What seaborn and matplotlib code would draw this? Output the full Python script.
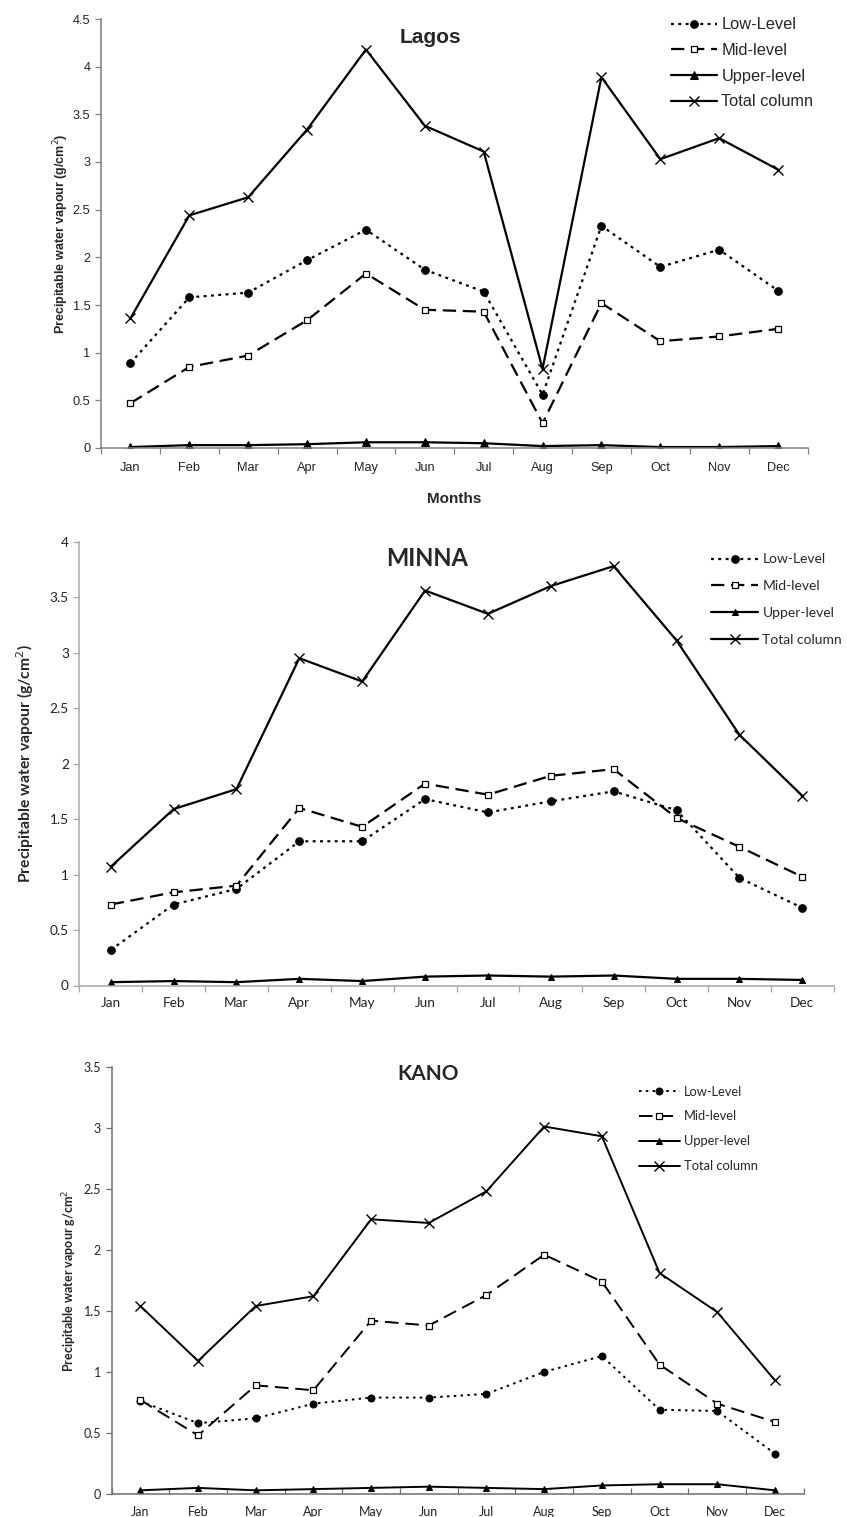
import matplotlib
matplotlib.use("Agg")
import matplotlib.pyplot as plt
import seaborn as sns
import pandas as pd
from matplotlib.ticker import FixedLocator, NullFormatter

months = ["Jan", "Feb", "Mar", "Apr", "May", "Jun", "Jul", "Aug", "Sep", "Oct", "Nov", "Dec"]
series_names = ["Low-Level", "Mid-level", "Upper-level", "Total column"]

lagos_low = [0.89, 1.58, 1.63, 1.97, 2.29, 1.87, 1.64, 0.56, 2.33, 1.90, 2.08, 1.65]
lagos_mid = [0.47, 0.85, 0.97, 1.34, 1.83, 1.45, 1.43, 0.26, 1.52, 1.12, 1.17, 1.25]
lagos_upper = [0.01, 0.03, 0.03, 0.04, 0.06, 0.06, 0.05, 0.02, 0.03, 0.01, 0.01, 0.02]
lagos_total = [1.36, 2.44, 2.63, 3.34, 4.18, 3.38, 3.11, 0.83, 3.89, 3.03, 3.25, 2.92]

minna_low = [0.32, 0.73, 0.87, 1.30, 1.30, 1.68, 1.56, 1.66, 1.75, 1.58, 0.97, 0.70]
minna_mid = [0.73, 0.84, 0.90, 1.60, 1.43, 1.82, 1.72, 1.89, 1.95, 1.51, 1.25, 0.98]
minna_upper = [0.03, 0.04, 0.03, 0.06, 0.04, 0.08, 0.09, 0.08, 0.09, 0.06, 0.06, 0.05]
minna_total = [1.07, 1.59, 1.77, 2.95, 2.74, 3.56, 3.35, 3.60, 3.78, 3.11, 2.26, 1.71]

kano_low = [0.76, 0.58, 0.62, 0.74, 0.79, 0.79, 0.82, 1.00, 1.13, 0.69, 0.68, 0.33]
kano_mid = [0.77, 0.48, 0.89, 0.85, 1.42, 1.38, 1.63, 1.96, 1.74, 1.06, 0.74, 0.59]
kano_upper = [0.03, 0.05, 0.03, 0.04, 0.05, 0.06, 0.05, 0.04, 0.07, 0.08, 0.08, 0.03]
kano_total = [1.54, 1.09, 1.54, 1.62, 2.25, 2.22, 2.48, 3.01, 2.93, 1.81, 1.49, 0.93]

panel_titles = ["Lagos", "MINNA", "KANO"]

sns.set_theme(style="white")
plt.rcParams["font.family"] = ["Liberation Sans", "DejaVu Sans"]

fig = plt.figure(figsize=(8.47, 15.17), dpi=100)

panels = [
    dict(rect=[101/847, 1-448/1517, 706.5/847, 429/1517], data=[lagos_low, lagos_mid, lagos_upper, lagos_total],
         ymax=4.5, yticks=[0, 0.5, 1, 1.5, 2, 2.5, 3, 3.5, 4, 4.5], font="Liberation Sans",
         ylabel="Precipitable water vapour (g/cm$^2$)", ylsize=9, ylx=-0.043, ticksize=9.2, title_size=15,
         title_xy=(0.467, 0.956), legsize=11.8, legloc=(0.797, 1.019), hl=2.8, ls=0.65, spine="#7f7f7f",
         xlabel="Months", lw=1.6, ms_o=5.5, ms_s=5, ms_t=6, ms_x=7, xdir="out", xpad=10,
         dash_low=(0, (1.3, 2.0)), dash_mid=(0, (6, 3))),
    dict(rect=[79.3/847, 1-985.5/1517, 754.4/847, 443.8/1517], data=[minna_low, minna_mid, minna_upper, minna_total],
         ymax=4, yticks=[0, 0.5, 1, 1.5, 2, 2.5, 3, 3.5, 4], font="Lato",
         ylabel="Precipitable water vapour (g/cm$^2$)", ylsize=11.3, ylx=-0.057, ticksize=9.8, title_size=17,
         title_xy=(0.461, 0.963), legsize=10, legloc=(0.83, 0.986), hl=3.4, ls=1.07, spine="#a6a6a6",
         xlabel=None, lw=1.6, ms_o=5.5, ms_s=5, ms_t=4.5, ms_x=7, xdir="out", xpad=8,
         dash_low=(0, (1.3, 2.0)), dash_mid=(0, (6, 3))),
    dict(rect=[111.5/847, 1-1494/1517, 692.3/847, 427.3/1517], data=[kano_low, kano_mid, kano_upper, kano_total],
         ymax=3.5, yticks=[0, 0.5, 1, 1.5, 2, 2.5, 3, 3.5], font="Lato",
         ylabel="Precipitable water vapour g/cm$^2$", ylsize=9, ylx=-0.047, ticksize=9, title_size=15,
         title_xy=(0.457, 0.984), legsize=9.3, legloc=(0.754, 0.968), hl=3.2, ls=1.0, spine="#6e6e6e",
         xlabel=None, lw=1.4, ms_o=5, ms_s=5, ms_t=4.5, ms_x=7, xdir="in", xpad=9,
         dash_low=(0, (1.3, 2.2)), dash_mid=(0, (7, 3.5))),
]

for p, title in zip(panels, panel_titles):
    ax = fig.add_axes(p["rect"])
    fam = [p["font"], "DejaVu Sans"]
    low, mid, upper, total = p["data"]
    lw = p["lw"]
    sns.lineplot(x=months, y=low, ax=ax, color="black", lw=lw, linestyle=p["dash_low"],
                 marker="o", markersize=p["ms_o"], markerfacecolor="black", markeredgecolor="black",
                 label=series_names[0], sort=False)
    sns.lineplot(x=months, y=mid, ax=ax, color="black", lw=lw, linestyle=p["dash_mid"],
                 marker="s", markersize=p["ms_s"], markerfacecolor="white", markeredgecolor="black",
                 markeredgewidth=0.9, label=series_names[1], sort=False)
    sns.lineplot(x=months, y=upper, ax=ax, color="black", lw=lw, linestyle="-",
                 marker="^", markersize=p["ms_t"], markerfacecolor="black", markeredgecolor="black",
                 label=series_names[2], sort=False)
    sns.lineplot(x=months, y=total, ax=ax, color="black", lw=lw, linestyle="-",
                 marker="x", markersize=p["ms_x"], markeredgewidth=1.0, markeredgecolor="black",
                 markerfacecolor="black", label=series_names[3], sort=False)

    ax.set_xlim(-0.5, 11.5)
    ax.set_ylim(0, p["ymax"])
    ax.set_yticks(p["yticks"])
    ax.set_yticklabels([f"{v:g}" for v in p["yticks"]], fontsize=p["ticksize"], family=fam, color="#222222")
    ax.set_xticks(range(12))
    ax.set_xticklabels(months, fontsize=p["ticksize"], family=fam, color="#222222")
    ax.xaxis.set_minor_locator(FixedLocator([i - 0.5 for i in range(13)]))
    ax.xaxis.set_minor_formatter(NullFormatter())
    ax.tick_params(axis="x", which="major", length=0, pad=p["xpad"])
    ax.tick_params(axis="x", which="minor", length=4.5, width=0.9, color=p["spine"], direction=p["xdir"], bottom=True)
    ax.tick_params(axis="y", which="major", length=4.5, width=0.9, color=p["spine"], direction="out", left=True, pad=3)
    for side in ["top", "right"]:
        ax.spines[side].set_visible(False)
    for side in ["left", "bottom"]:
        ax.spines[side].set_color(p["spine"])
        ax.spines[side].set_linewidth(1.1)
    ax.grid(False)
    ax.set_ylabel(p["ylabel"], fontsize=p["ylsize"], fontweight="bold", family=fam)
    ax.yaxis.set_label_coords(p["ylx"], 0.5)
    if p["xlabel"]:
        ax.set_xlabel(p["xlabel"], fontsize=11, fontweight="bold", family=fam, labelpad=13)
    else:
        ax.set_xlabel("")
    ax.text(p["title_xy"][0], p["title_xy"][1], title, transform=ax.transAxes, ha="center", va="center",
            fontsize=p["title_size"], fontweight="bold", family=fam)
    ax.legend(loc="upper left", bbox_to_anchor=p["legloc"], frameon=False,
              prop={"family": fam, "size": p["legsize"]}, handlelength=p["hl"], handletextpad=0.3,
              labelspacing=p["ls"], borderaxespad=0)

fig.savefig("out.png", dpi=100, facecolor="white")
